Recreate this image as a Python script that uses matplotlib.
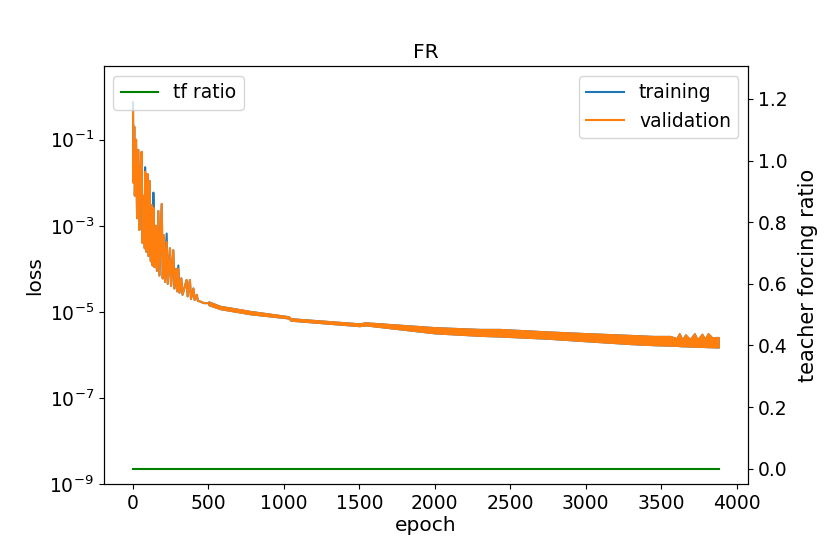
import numpy as np
import matplotlib
matplotlib.use("Agg")
import matplotlib.pyplot as plt
from matplotlib.ticker import NullLocator

# early epochs: spiky part of the curves
epochs_early = [0, 3, 8, 12, 20, 27, 35, 42, 50, 57, 63, 72, 78, 80, 88, 95,
                102, 110, 118, 125, 130, 135, 142, 150, 158, 168, 175, 190,
                197, 205, 212, 223, 230, 245, 252, 267, 274, 285, 292, 300,
                308, 320, 328, 355, 362, 377, 384, 400, 408, 422, 430, 445,
                470, 500]
val_early = [4.4e-1, 1.0e-2, 2.0e-1, 5.0e-3, 1.0e-1, 1.5e-3, 5.8e-2, 8.0e-4,
             2.0e-2, 5.2e-2, 4.0e-4, 5.0e-3, 3.0e-4, 1.8e-2, 2.5e-4, 1.6e-2,
             2.0e-4, 1.1e-2, 1.5e-4, 3.0e-3, 1.2e-4, 2.6e-3, 1.1e-4, 1.0e-3,
             9.0e-5, 2.2e-3, 7.0e-5, 3.2e-3, 6.0e-5, 6.0e-4, 5.0e-5, 4.2e-4,
             4.5e-5, 3.0e-4, 4.0e-5, 2.7e-4, 3.5e-5, 1.0e-4, 3.0e-5, 1.0e-4,
             2.8e-5, 6.0e-5, 2.5e-5, 5.5e-5, 2.3e-5, 5.5e-5, 2.0e-5, 3.5e-5,
             1.9e-5, 2.5e-5, 1.8e-5, 1.75e-5, 1.6e-5, 1.6e-5]
train_early = [7.4e-1, 1.0e-2, 2.0e-1, 5.0e-3, 1.0e-1, 1.5e-3, 5.8e-2, 8.0e-4,
               2.0e-2, 5.2e-2, 4.0e-4, 5.0e-3, 3.0e-4, 2.3e-2, 2.5e-4, 1.6e-2,
               2.0e-4, 1.1e-2, 1.5e-4, 3.0e-3, 1.2e-4, 5.9e-3, 1.1e-4, 1.0e-3,
               9.0e-5, 2.2e-3, 7.0e-5, 3.2e-3, 6.0e-5, 6.0e-4, 5.0e-5, 6.6e-4,
               4.5e-5, 3.0e-4, 4.0e-5, 2.7e-4, 3.5e-5, 1.0e-4, 3.0e-5, 1.2e-4,
               2.8e-5, 6.0e-5, 2.5e-5, 5.5e-5, 2.3e-5, 5.5e-5, 2.0e-5, 3.5e-5,
               1.9e-5, 2.5e-5, 1.8e-5, 1.75e-5, 1.6e-5, 1.6e-5]

# later epochs: the curves oscillate inside a narrow band (upper / lower edge)
epochs_band = [500, 576, 775, 1030, 1045, 1500, 1540, 2000, 2300, 2430, 2750,
               3000, 3300, 3450, 3560, 3600, 3620, 3640, 3660, 3690, 3720,
               3740, 3770, 3790, 3810, 3840, 3860, 3880]
band_upper = [1.75e-5, 1.38e-5, 1.05e-5, 7.9e-6, 7.1e-6, 5.4e-6, 5.7e-6,
              4.4e-6, 4.0e-6, 4.0e-6, 3.5e-6, 3.2e-6, 2.9e-6, 2.75e-6,
              2.75e-6, 2.45e-6, 3.2e-6, 2.3e-6, 3.0e-6, 2.35e-6, 3.2e-6,
              2.3e-6, 3.1e-6, 2.4e-6, 3.2e-6, 2.5e-6, 2.6e-6, 2.6e-6]
band_lower = [1.45e-5, 1.17e-5, 8.9e-6, 7.1e-6, 6.3e-6, 4.7e-6, 4.9e-6,
              3.2e-6, 2.8e-6, 2.7e-6, 2.4e-6, 2.1e-6, 1.8e-6, 1.7e-6,
              1.66e-6, 1.64e-6, 1.62e-6, 1.6e-6, 1.6e-6, 1.58e-6, 1.57e-6,
              1.56e-6, 1.55e-6, 1.54e-6, 1.53e-6, 1.52e-6, 1.51e-6, 1.5e-6]

# teacher forcing ratio (constant)
tf_epochs = [0, 3880]
tf_ratio = [0.0, 0.0]

loss_ticks = [1e-9, 1e-7, 1e-5, 1e-3, 1e-1]

plt.rcParams["font.size"] = 13.5

fig, ax = plt.subplots(figsize=(8.3, 5.54), dpi=100)
fig.subplots_adjust(left=0.125, right=0.901, bottom=0.126, top=0.880)

c_train = "#1f77b4"
c_val = "#ff7f0e"

ax.plot(epochs_early, train_early, color=c_train, lw=1.5, label="training")
ax.fill_between(epochs_band, band_lower, band_upper, color=c_train,
                lw=1, edgecolor=c_train)
ax.plot(epochs_early, val_early, color=c_val, lw=1.5, label="validation")
ax.fill_between(epochs_band, band_lower, band_upper, color=c_val,
                lw=1, edgecolor=c_val)

ax.set_yscale("log")
ax.set_ylim(1e-9, 5)
ax.set_yticks(loss_ticks)
ax.yaxis.set_minor_locator(NullLocator())
ax.set_xlim(-194, 4074)
ax.set_xlabel("epoch", fontsize=14.5, labelpad=2)
ax.set_ylabel("loss", fontsize=14.5)
ax.set_title("FR", fontsize=14.5)
ax.legend(loc="upper right")

ax2 = ax.twinx()
ax2.plot(tf_epochs, tf_ratio, color="green", lw=1.5, label="tf ratio")
ax2.set_ylim(-0.05, 1.305)
ax2.set_ylabel("teacher forcing ratio", fontsize=15, labelpad=8)
ax2.legend(loc="upper left")

fig.savefig("out.png", dpi=100)
